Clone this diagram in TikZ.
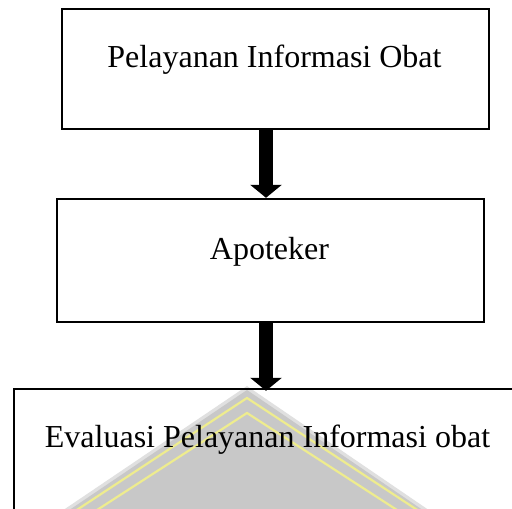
\documentclass[tikz,border=0pt]{standalone}
\usepackage{fontspec}
\setmainfont{Liberation Serif}
\usetikzlibrary{arrows.meta}
\definecolor{markgrey}{HTML}{C8C8C8}
\definecolor{markhalo}{HTML}{E0E0E0}
\definecolor{markyellow}{HTML}{EEEC8E}
\tikzset{
  box/.style={draw=black, line width=2.2pt, rectangle, fill=none, inner sep=0pt, anchor=south west},
  label text/.style={font=\fontsize{32}{36}\selectfont, anchor=base, inner sep=0pt},
  flow/.style={line width=14pt, -{Triangle[width=31pt,length=13pt]}}
}
\begin{document}
\begin{tikzpicture}[x=1pt,y=1pt]
  \clip (0,0) rectangle (512,509);
  \fill[white] (0,0) rectangle (512,509);

  % faint logo in the background of the lower box
  \fill[markhalo] (247,123) -- (436,-6) -- (56,-6) -- cycle;
  \fill[markgrey] (247,119) -- (430,-6) -- (62,-6) -- cycle;
  \draw[markyellow, line width=2.2pt] (60,-12) -- (247,111) -- (434,-12);
  \draw[markyellow, line width=2.2pt] (80,-12) -- (247,96) -- (414,-12);

  % boxes
  \node[box, minimum width=427pt, minimum height=120pt] (box1) at (61,379) {};
  \node[box, minimum width=427pt, minimum height=123pt] (box2) at (56,186) {};
  \node[box, minimum width=517pt, minimum height=139pt] (box3) at (13,-20) {};

  % texts
  \node[label text] (t1) at (274.5,441) {Pelayanan Informasi Obat};
  \node[label text] (t2) at (269.5,249) {Apoteker};
  \node[label text] (t3) at (267.5,61) {Evaluasi Pelayanan Informasi obat};

  % connectors
  \coordinate (ax) at (266,0);
  \draw[flow] (box1.south -| ax) -- (box2.north -| ax);
  \draw[flow] (box2.south -| ax) -- ([yshift=-3pt]box3.north -| ax);
\end{tikzpicture}
\end{document}
